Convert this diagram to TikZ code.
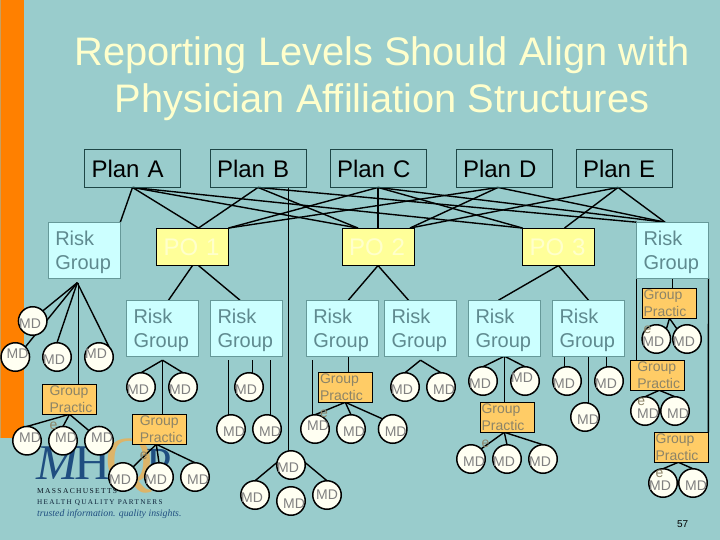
\documentclass[tikz,border=0pt]{standalone}
\usepackage{fontspec}
\setmainfont{Liberation Sans}
\newfontfamily\lserif{Liberation Serif}
\newfontfamily\lserifs[LetterSpace=18]{Liberation Serif}
\definecolor{bgc}{HTML}{99CCCC}
\definecolor{barc}{HTML}{FF8000}
\definecolor{tanc}{HTML}{C8A060}
\definecolor{titlec}{HTML}{FFFFCC}
\definecolor{planl}{HTML}{1E4646}
\definecolor{poc}{HTML}{FFFF99}
\definecolor{potext}{HTML}{FFFFCC}
\definecolor{rgc}{HTML}{CCFFFF}
\definecolor{rgl}{HTML}{669999}
\definecolor{rgt}{HTML}{5F8A8F}
\definecolor{gpc}{HTML}{FFCC66}
\definecolor{gpt}{HTML}{8C8468}
\definecolor{mdf}{HTML}{FFFFF2}
\definecolor{mdt}{HTML}{808080}
\definecolor{navyc}{HTML}{1F4E80}
\definecolor{goldc}{HTML}{DDB468}
\pgfdeclarelayer{back}
\pgfdeclarelayer{conn}
\pgfdeclarelayer{front}
\pgfsetlayers{back,conn,main,front}
\tikzset{
  plansty/.style={draw=planl,line width=0.9pt,minimum height=37.5pt,text width=82pt,inner xsep=7pt,inner ysep=0pt,outer sep=0pt,align=left,font=\fontsize{24}{28}\selectfont,text=black},
  posty/.style={draw=black,line width=0.9pt,fill=poc,minimum height=37.5pt,text width=58pt,inner xsep=7pt,inner ysep=0pt,outer sep=0pt,align=left,font=\fontsize{24}{28}\selectfont,text=potext},
  rgsty/.style={draw=rgl,line width=0.9pt,fill=rgc,minimum height=56pt,text width=58pt,inner xsep=7pt,inner ysep=0pt,outer sep=0pt,align=left,font=\fontsize{20}{24}\selectfont,text=rgt},
  gpsty/.style={draw=black,line width=0.9pt,fill=gpc,minimum width=54pt,minimum height=30pt,inner sep=0pt,outer sep=0pt},
  gptxt/.style={anchor=north west,inner sep=0pt,outer sep=0pt,align=left,font=\fontsize{14}{16.8}\selectfont,text=gpt},
  mdcirc/.style={circle,draw=black,line width=1.5pt,fill=mdf,minimum size=28.5pt,inner sep=0pt,outer sep=0pt},
  mdtxt/.style={inner sep=0pt,font=\fontsize{14}{16}\selectfont,text=mdt},
  link/.style={draw=black,line width=1.4pt},
  titletxt/.style={anchor=base,inner sep=0pt,font=\fontsize{39.8}{44}\selectfont,text=titlec},
  logotxt/.style={anchor=base west,inner sep=0pt,text=navyc}
}
\newcommand{\mdn}[5]{\node[mdcirc] (#1) at (#2,#3) {};\node[mdtxt,xshift=#4pt,yshift=#5pt] (#1t) at (#1) {MD};}
\newcommand{\gpn}[4]{\node[gpsty] (#1) at (#2,#3) {};\begin{pgfonlayer}{front}\node[gptxt,xshift=#4pt,yshift=-1.5pt] (#1t) at (#1.north west) {Group\\Practic\\e};\end{pgfonlayer}}
\newcommand{\rgword}{\rule{0pt}{18pt}Risk\\Group}
\newcommand{\planword}[1]{\rule{0pt}{16pt}#1}
\begin{document}
\begin{tikzpicture}[x=1pt,y=-1pt]
\useasboundingbox (0,0) rectangle (720,540);
\begin{pgfonlayer}{back}
\fill[bgc] (0,0) rectangle (720,540);
\fill[barc] (0,0) rectangle (24,438);
\fill[tanc] (0,0) rectangle (1.3,438);
\node[logotxt,font=\lserif\itshape\fontsize{50}{50}\selectfont] (lm) at (36,479) {M};
\node[logotxt,font=\lserif\fontsize{50}{50}\selectfont] (lh) at (74,479) {H};
\node[logotxt,font=\lserif\fontsize{66}{66}\selectfont,text=goldc] (lq) at (105,482) {Q};
\node[logotxt,font=\lserif\fontsize{46}{46}\selectfont] (lp) at (146,479) {P};
\node[logotxt,font=\lserifs\fontsize{7.5}{8}\selectfont,text=black!75!navyc] (l1) at (37,493) {MASSACHUSETTS};
\node[logotxt,font=\lserifs\fontsize{7.2}{8}\selectfont,text=black!55!navyc] (l2) at (37,504) {HEALTH QUALITY PARTNERS};
\node[logotxt,font=\lserif\itshape\fontsize{9.8}{12}\selectfont] (l3) at (37,516) {trusted information. quality insights.};
\end{pgfonlayer}

\node[titletxt] (t1) at (382,66) {Reporting Levels Should Align with};
\node[titletxt] (t2) at (382,113) {Physician Affiliation Structures};
\node[anchor=center,inner sep=0pt,font=\fontsize{10}{12}\selectfont] (pg) at (682.7,524) {57};

\node[plansty] (pA) at (132.5,168.7) {Plan A};
\node[plansty] (pB) at (258,168.7) {Plan B};
\node[plansty] (pC) at (378,168.7) {Plan C};
\node[plansty] (pD) at (504,168.7) {Plan D};
\node[plansty] (pE) at (624,168.7) {Plan E};

\node[posty] (po1) at (192.5,246.8) {PO 1};
\node[posty] (po2) at (378,246.8) {PO 2};
\node[posty] (po3) at (558.5,246.8) {PO 3};

\node[rgsty] (rgL) at (84.3,250.2) {\rgword};
\node[rgsty] (rgR) at (672.5,250.2) {\rgword};
\node[rgsty] (rg1) at (162.5,328.2) {\rgword};
\node[rgsty] (rg2) at (246.5,328.2) {\rgword};
\node[rgsty] (rg3) at (342.3,328.2) {\rgword};
\node[rgsty] (rg4) at (420.5,328.2) {\rgword};
\node[rgsty] (rg5) at (504.5,328.2) {\rgword};
\node[rgsty] (rg6) at (588.5,328.2) {\rgword};

\gpn{g1}{69.5}{399.3}{7}
\gpn{g2}{159.3}{429.3}{7.5}
\gpn{g3}{345.3}{387.3}{1.7}
\gpn{g4}{507.3}{417.3}{1.3}
\gpn{g5}{669.5}{303.3}{1}
\gpn{g6}{657.3}{375.3}{7}
\gpn{g7}{681.3}{447.3}{1.3}

% left group
\mdn{c2}{15.3}{357}{2.3}{3}
\mdn{c1}{32.7}{321}{-2.7}{-2.3}
\mdn{c3}{57}{357}{-3}{-3}
\mdn{c4}{99}{357}{-3}{3}
\mdn{d1}{27}{440.7}{3}{3}
\mdn{d2}{63}{440.7}{3}{3}
\mdn{d3}{99}{440.7}{3}{3}
% RG1
\mdn{e1}{141}{387}{-3}{-3}
\mdn{e2}{183}{387}{-3}{-3}
\mdn{f1}{123}{477}{-3}{-3}
\mdn{f2}{159}{477}{-3}{-3}
\mdn{f3}{195}{477}{3}{-3}
% RG2
\mdn{h1}{249}{387}{-3}{-3}
\mdn{h2}{231}{429}{3}{-3}
\mdn{h3}{267}{429}{3}{-3}
% Plan B drop
\mdn{b0}{291}{465}{-3}{-3}
\mdn{b1}{255}{495}{-3}{-3}
\mdn{b2}{291}{501}{3}{-3}
\mdn{b3}{327}{495}{0}{0}
% RG3
\mdn{i1}{315}{429}{3}{3}
\mdn{i2}{351}{429}{3}{-3}
\mdn{i3}{392.7}{429}{3}{-3}
% RG4
\mdn{j1}{405}{387}{-3}{-3}
\mdn{j2}{441}{387}{3}{-3}
% RG5
\mdn{k1}{483}{381}{-3}{-3}
\mdn{k2}{525}{381}{-3}{3}
\mdn{l1c}{471}{459}{3}{-3}
\mdn{l2c}{507}{459}{-3}{-3}
\mdn{l3c}{543}{459}{-3}{-3}
% RG6
\mdn{n1}{567}{381}{-3}{-3}
\mdn{n2}{609}{381}{-3}{-3}
\mdn{n3}{585}{417}{3}{-3}
% right column
\mdn{o1}{656.3}{339}{-3}{-3}
\mdn{o2}{687}{339}{-3}{-3}
\mdn{q1}{645}{411}{3}{-3}
\mdn{q2}{675}{411}{3}{-3}
\mdn{r1}{663}{483}{-3}{-3}
\mdn{r2}{693}{483}{3}{-3}

\begin{pgfonlayer}{conn}
% plans to organisations
\draw[link] (pA.south) -- (rgL.north east);
\draw[link] (pA.south) -- ([xshift=6pt]po1.north);
\draw[link] (pA.south) -- ([xshift=-20pt]po2.north);
\draw[link] (pA.south) -- (po3.north west);
\draw[link] (pB.south) -- ([xshift=6pt]po1.north);
\draw[link] (pB.south) -- ([xshift=-20pt]po2.north);
\draw[link] (pB.south) -- (rgR.north west);
\draw[link] (pC.south) -- (po1.north east);
\draw[link] (pC.south) -- (po2.north);
\draw[link] (pC.south) -- (po3.north west);
\draw[link] (pC.south) -- ([xshift=-7.5pt]rgR.north);
\draw[link] ([xshift=-6pt]pD.south) -- (po1.north east);
\draw[link] ([xshift=-6pt]pD.south) -- ([xshift=32pt]po2.north);
\draw[link] ([xshift=-6pt]pD.south) -- ([xshift=-7.5pt]rgR.north);
\draw[link] ([xshift=-6pt]pE.south) -- ([xshift=32pt]po2.north);
\draw[link] ([xshift=-6pt]pE.south) -- ([xshift=6pt]po3.north);
\draw[link] ([xshift=-6pt]pE.south) -- ([xshift=-7.5pt]rgR.north);
% organisations to risk groups
\draw[link] (po1.south) -- ([xshift=6pt]rg1.north);
\draw[link] ([xshift=6pt]po1.south) -- ([xshift=-6.5pt]rg2.north);
\draw[link] (po2.south) -- ([xshift=6pt]rg3.north);
\draw[link] (po2.south) -- ([xshift=-12pt]rg4.north);
\draw[link] (po3.south) -- ([xshift=-6pt]rg5.north);
\draw[link] (po3.south) -- (rg6.north);
% left risk group
\draw[link] ([xshift=-7pt,yshift=-4.5pt]rgL.south) -- (c1.north east);
\draw[link] ([xshift=-7pt,yshift=-4.5pt]rgL.south) -- (c2.north east);
\draw[link] ([xshift=-7pt,yshift=-4.5pt]rgL.south) -- (c3.north);
\draw[link] ([xshift=-7pt,yshift=-4.5pt]rgL.south) -- (c4.north east);
\draw[link] ([xshift=-6pt,yshift=-4.5pt]rgL.south) -- ([xshift=-6pt]rgL.south |- g1.north);
\draw[link] (g1.south) -- (d1.north);
\draw[link] (g1.south) -- (d2.north);
\draw[link] (g1.south) -- (d3.north west);
% RG1
\draw[link] ([yshift=-4pt]rg1.south) -- (e1.north);
\draw[link] ([yshift=-4pt]rg1.south) -- (e2.north);
\draw[link] ([yshift=-4pt]rg1.south) -- (g2.north -| rg1.south);
\draw[link] ([xshift=-3pt]g2.south) -- (f1.north east);
\draw[link] ([xshift=-3pt]g2.south) -- (f2.north);
\draw[link] ([xshift=-3pt]g2.south) -- (f3.north);
% RG2
\draw[link] ([xshift=-18pt,yshift=-4pt]rg2.south) -- ([xshift=-18pt]rg2.south |- h2);
\draw[link] ([xshift=6pt,yshift=-4pt]rg2.south) -- ([xshift=6pt]rg2.south |- h1);
\draw[link] ([xshift=24pt,yshift=-4pt]rg2.south) -- ([xshift=24pt]rg2.south |- h3);
% Plan B drop
\draw[link] ([xshift=30.3pt]pB.south) -- ([xshift=30.3pt]pB.south |- b0.north);
\draw[link] (b0.north) -- (b1.north);
\draw[link] (b0.north) -- (b3.north);
% RG3
\draw[link] ([xshift=-30pt,yshift=-4pt]rg3.south) -- ([xshift=-30pt]rg3.south |- i1);
\draw[link] ([xshift=6pt]rg3.south) -- ([xshift=6pt]rg3.south |- g3.north);
\draw[link] (g3.south) -- (i1.north);
\draw[link] (g3.south) -- (i2.north);
\draw[link] (g3.south) -- (i3.north west);
% RG4
\draw[link] ([yshift=-4pt]rg4.south) -- (j1.north);
\draw[link] ([yshift=-4pt]rg4.south) -- (j2.north);
% RG5
\draw[link] (rg5.south) -- (k1.north);
\draw[link] (rg5.south) -- (k2.north);
\draw[link] (rg5.south) -- (rg5.south |- g4.north);
\draw[link] ([xshift=-3pt]g4.south) -- (l1c.north east);
\draw[link] ([xshift=-3pt]g4.south) -- (l2c.north);
\draw[link] ([xshift=-3pt]g4.south) -- (l3c.north);
% RG6
\draw[link] ([xshift=-24pt]rg6.south) -- ([xshift=-24pt]rg6.south |- n1);
\draw[link] (rg6.south) -- (rg6.south |- n3);
\draw[link] ([xshift=18pt]rg6.south) -- ([xshift=18pt]rg6.south |- n2);
% right risk group
\draw[link] (rgR.south west) -- (rgR.south east);
\draw[link] (rgR.south west) -- (rgR.south west |- g6.north);
\draw[link] (rgR.south east) -- (g7.north east);
\draw[link] (rgR.south) -- (rgR.south |- g5.north);
\draw[link] (g5.south) -- (o1.north east);
\draw[link] (g5.south) -- (o2.north west);
\draw[link] ([xshift=2pt]g6.south) -- (q1.north);
\draw[link] ([xshift=2pt]g6.south) -- (q2.north);
\draw[link] ([xshift=-3pt]g7.south) -- (r1.north);
\draw[link] ([xshift=-3pt]g7.south) -- (r2.north);
\end{pgfonlayer}
\end{tikzpicture}
\end{document}
